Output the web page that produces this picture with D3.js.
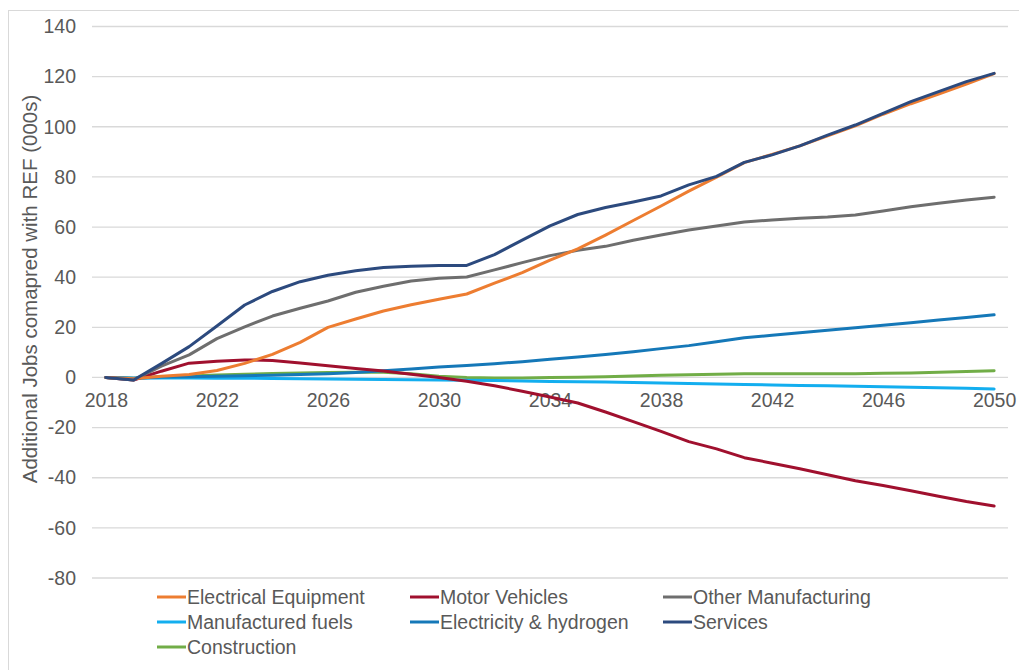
<!DOCTYPE html>
<html>
<head>
<meta charset="utf-8">
<script src="https://cdn.jsdelivr.net/npm/d3@7"></script>
<style>
  html, body { margin: 0; padding: 0; background: #fff; }
  svg { display: block; font-family: "Liberation Sans", Arial, sans-serif; }
</style>
</head>
<body>
<svg id="chart" width="1019" height="670"></svg>
<script>
const years = d3.range(2018, 2051);
const xTickLabels = [2018, 2022, 2026, 2030, 2034, 2038, 2042, 2046, 2050];
const yTicks = [-80, -60, -40, -20, 0, 20, 40, 60, 80, 100, 120, 140];
const yTitle = "Additional Jobs comapred with REF (000s)";

const seriesNames = ["Electrical Equipment", "Motor Vehicles", "Other Manufacturing",
  "Manufactured fuels", "Electricity & hydrogen", "Services", "Construction"];
const seriesColors = ["#ED7D31", "#A0102E", "#6E6E6E", "#13AEEF", "#1578B8", "#2C4A7E", "#71AD47"];

const electricalEquipment = [0, -0.5, 0.5, 1.2, 2.8, 5.6, 9.2, 14, 20, 23.3, 26.5, 29, 31.2, 33.3,
  37.6, 41.8, 46.8, 51.3, 56.8, 62.6, 68.4, 74.3, 79.9, 85.7, 89, 92.4, 96.4, 100.4, 105, 109.2, 113, 117, 121.2];
const motorVehicles = [0, -1, 2.5, 5.7, 6.5, 7, 6.8, 5.8, 4.7, 3.6, 2.6, 1.3, 0, -1.5,
  -3.3, -5.5, -7.8, -10.2, -13.8, -17.6, -21.5, -25.6, -28.5, -32, -34.2, -36.4, -38.8, -41.2, -43.1, -45.2, -47.4, -49.5, -51.3];
const otherManufacturing = [0, -1, 4.5, 9, 15.5, 20.2, 24.5, 27.6, 30.5, 34, 36.4, 38.5, 39.6, 40.1,
  42.9, 45.8, 48.6, 50.7, 52.3, 54.7, 56.8, 58.8, 60.4, 62, 62.8, 63.5, 64, 64.8, 66.4, 68.1, 69.5, 70.8, 71.9];
const manufacturedFuels = [0, -0.3, -0.2, -0.2, -0.3, -0.3, -0.4, -0.5, -0.6, -0.7, -0.8, -0.9, -1.0, -1.1,
  -1.2, -1.4, -1.6, -1.7, -1.8, -2.0, -2.2, -2.4, -2.6, -2.8, -3.0, -3.2, -3.3, -3.5, -3.7, -3.9, -4.1, -4.3, -4.6];
const electricityHydrogen = [0, -0.3, 0.2, 0.3, 0.5, 0.7, 0.9, 1.2, 1.5, 2.0, 2.7, 3.4, 4.2, 4.8,
  5.5, 6.3, 7.3, 8.2, 9.2, 10.3, 11.5, 12.7, 14.2, 15.8, 16.8, 17.8, 18.8, 19.8, 20.8, 21.8, 22.9, 23.9, 25];
const services = [0, -1, 5.5, 12.3, 20.5, 28.9, 34.3, 38.2, 40.8, 42.6, 43.9, 44.4, 44.7, 44.7,
  49, 54.8, 60.5, 65, 67.8, 70, 72.4, 76.8, 80.2, 85.8, 88.8, 92.4, 96.7, 100.7, 105.3, 110, 114, 118, 121.3];
const construction = [0, -0.3, 0.3, 0.6, 1.0, 1.3, 1.6, 1.8, 2.0, 2.1, 2.1, 1.5, 0.5, 0,
  -0.2, -0.2, 0, 0.1, 0.3, 0.6, 0.9, 1.1, 1.3, 1.5, 1.5, 1.5, 1.5, 1.5, 1.7, 1.8, 2.1, 2.4, 2.7];

const seriesValues = [electricalEquipment, motorVehicles, otherManufacturing, manufacturedFuels,
  electricityHydrogen, services, construction];

const svg = d3.select("#chart");
const textColor = "#595959";
const fontSize = "19.5px";
const plotLeft = 92, plotRight = 1008, plotTop = 26.5, plotBottom = 578;

// outer chart border
svg.append("rect")
  .attr("x", 8.5).attr("y", 10.5).attr("width", 1030).attr("height", 700)
  .attr("fill", "none").attr("stroke", "#D9D9D9").attr("stroke-width", 1);

const x = d3.scalePoint().domain(years).range([plotLeft, plotRight]).padding(0.5);
const y = d3.scaleLinear().domain([-80, 140]).range([plotBottom, plotTop]);

// gridlines
svg.append("g").selectAll("line").data(yTicks).join("line")
  .attr("x1", plotLeft).attr("x2", plotRight)
  .attr("y1", d => y(d)).attr("y2", d => y(d))
  .attr("stroke", "#D9D9D9").attr("stroke-width", 1.3);

// y axis labels
const yAxis = d3.axisLeft(y).tickValues(yTicks).tickSize(0).tickPadding(0).tickFormat(d => String(d));
const gy = svg.append("g").attr("transform", `translate(${plotLeft - 16},0)`).call(yAxis);
gy.select(".domain").remove();
gy.selectAll("text").attr("fill", textColor).style("font-size", fontSize)
  .style("font-family", "'Liberation Sans', Arial, sans-serif");

// x axis labels (at zero line)
const xAxis = d3.axisBottom(x).tickValues(xTickLabels).tickSize(0).tickPadding(0).tickFormat(d => String(d));
const gx = svg.append("g").attr("transform", `translate(0,${y(0) + 16})`).call(xAxis);
gx.select(".domain").remove();
gx.selectAll("text").attr("fill", textColor).style("font-size", fontSize)
  .style("font-family", "'Liberation Sans', Arial, sans-serif");

// y title
svg.append("text")
  .attr("transform", `translate(37,289) rotate(-90)`)
  .attr("text-anchor", "middle")
  .attr("fill", textColor).style("font-size", "20.5px")
  .text(yTitle);

// lines
const line = d3.line().x((d, i) => x(years[i])).y(d => y(d));
const drawOrder = [6, 3, 4, 1, 2, 0, 5];
svg.append("g").selectAll("path").data(drawOrder).join("path")
  .attr("d", k => line(seriesValues[k]))
  .attr("fill", "none")
  .attr("stroke", k => seriesColors[k])
  .attr("stroke-width", 3)
  .attr("stroke-linejoin", "round")
  .attr("stroke-linecap", "round");

// legend
const legendCols = [157, 410, 663];
const legendRows = [597, 622, 647];
const lg = svg.append("g").selectAll("g").data(seriesNames).join("g")
  .attr("transform", (d, i) => `translate(${legendCols[i % 3]},${legendRows[Math.floor(i / 3)]})`);
lg.append("line").attr("x1", 0).attr("x2", 29).attr("y1", 0).attr("y2", 0)
  .attr("stroke", (d, i) => seriesColors[i]).attr("stroke-width", 3);
lg.append("text").attr("x", 30).attr("y", 0).attr("dy", "0.35em")
  .attr("fill", textColor).style("font-size", fontSize).text(d => d);
</script>
</body>
</html>
